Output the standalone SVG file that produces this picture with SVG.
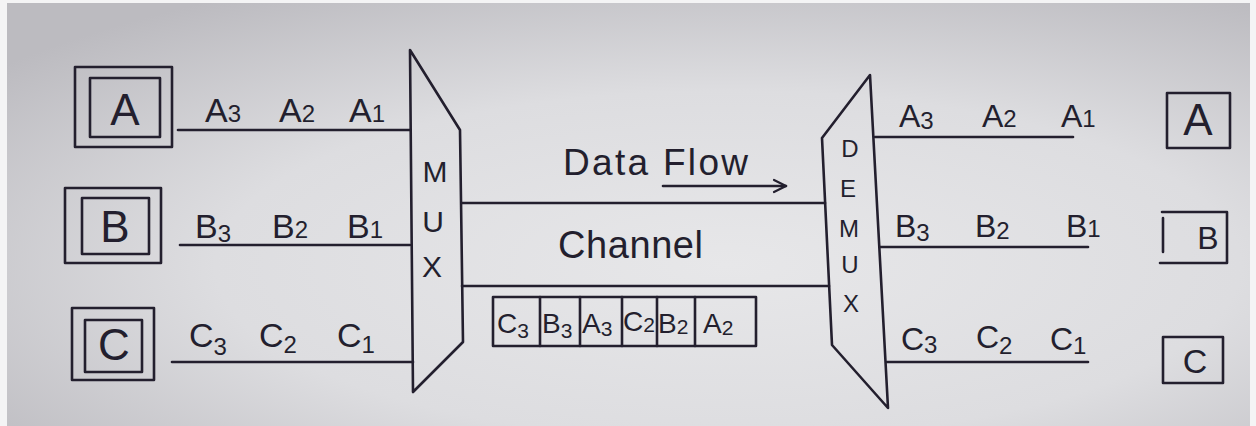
<svg xmlns="http://www.w3.org/2000/svg" width="1256" height="426" viewBox="0 0 1256 426">
  <defs>
    <radialGradient id="paper" cx="0.58" cy="0.62" r="0.75">
      <stop offset="0" stop-color="#e7e7e9"/>
      <stop offset="0.55" stop-color="#dddde0"/>
      <stop offset="1" stop-color="#bcbbc0"/>
    </radialGradient>
    <marker id="open-arrow" viewBox="0 0 16 16" refX="14" refY="8" markerWidth="16" markerHeight="16" markerUnits="userSpaceOnUse" orient="auto">
      <path d="M2,2 L14,8 L2,14" fill="none" stroke="#231f2e" stroke-width="2.2" stroke-linecap="round" stroke-linejoin="round"/>
    </marker>
    <style>
      .ink { fill: none; stroke: #231f2e; stroke-width: 2.6; stroke-linecap: round; stroke-linejoin: round; }
      .txt { font-family: "Liberation Sans", Arial, sans-serif; fill: #231f2e; }
      .box-letter { font-size: 44px; text-anchor: middle; }
      .lbl { font-size: 34px; }
      .lbl-r { font-size: 32px; }
      .sub { font-size: 24px; }
      .mux { font-size: 30px; text-anchor: middle; }
      .demux { font-size: 24px; text-anchor: middle; }
      .cell { font-size: 28px; }
      .cell-sub { font-size: 21px; }
    </style>
  </defs>

  <!-- sheet of paper -->
  <rect x="0" y="0" width="1256" height="426" fill="#f4f4f5"/>
  <rect x="7" y="3" width="1243" height="423" fill="url(#paper)"/>

  <!-- source stations -->
  <g id="src-a">
    <rect class="ink" x="75" y="67" width="97" height="80"/>
    <rect class="ink" x="90" y="78" width="70" height="59"/>
    <text class="txt box-letter" x="125" y="125">A</text>
  </g>
  <g id="src-b">
    <rect class="ink" x="65" y="188" width="96" height="75"/>
    <rect class="ink" x="82" y="198" width="67" height="56"/>
    <text class="txt box-letter" x="115" y="242">B</text>
  </g>
  <g id="src-c">
    <rect class="ink" x="72" y="308" width="82" height="72"/>
    <rect class="ink" x="85" y="320" width="57" height="52"/>
    <text class="txt box-letter" x="114" y="360">C</text>
  </g>

  <!-- multiplexer -->
  <g id="mux">
    <path class="ink" d="M410,50 L460,130 L463,342 L413,392 Z"/>
    <text class="txt mux" x="435" y="182">M</text>
    <text class="txt mux" x="433" y="232">U</text>
    <text class="txt mux" x="432" y="277">X</text>
  </g>

  <!-- demultiplexer -->
  <g id="demux">
    <path class="ink" d="M870,75 L888,408 L832,345 L822,138 Z"/>
    <text class="txt demux" x="850" y="157">D</text>
    <text class="txt demux" x="848" y="197">E</text>
    <text class="txt demux" x="849" y="237">M</text>
    <text class="txt demux" x="850" y="273">U</text>
    <text class="txt demux" x="851" y="312">X</text>
  </g>

  <!-- destination stations -->
  <g id="dst-a">
    <rect class="ink" x="1167" y="93" width="63" height="55"/>
    <text class="txt box-letter" x="1198" y="135">A</text>
  </g>
  <g id="dst-b">
    <path class="ink" d="M1162,212 L1227,212 L1227,263 L1160,263 M1163,218 L1163,252"/>
    <text class="txt" x="1208" y="249" font-size="32" text-anchor="middle">B</text>
  </g>
  <g id="dst-c">
    <rect class="ink" x="1163" y="337" width="60" height="46"/>
    <text class="txt" x="1195" y="373" font-size="34" text-anchor="middle">C</text>
  </g>

  <!-- channel -->
  <g id="channel">
    <text class="txt" x="558" y="258" font-size="38" textLength="145" lengthAdjust="spacing">Channel</text>
  </g>

  <!-- frame of interleaved data units -->
  <g id="frame">
    <rect class="ink" x="493" y="297" width="263" height="49"/>
    <path class="ink" d="M540,297 V346 M580,297 V346 M622,297 V346 M657,297 V346 M695,297 V346"/>
    <text class="txt cell" x="497" y="333">C<tspan class="cell-sub" dy="5">3</tspan></text>
    <text class="txt cell" x="542" y="333">B<tspan class="cell-sub" dy="5">3</tspan></text>
    <text class="txt cell" x="582" y="333">A<tspan class="cell-sub" dy="3">3</tspan></text>
    <text class="txt cell" x="623" y="331">C<tspan class="cell-sub" dy="1">2</tspan></text>
    <text class="txt cell" x="658" y="333">B<tspan class="cell-sub" dy="1">2</tspan></text>
    <text class="txt cell" x="703" y="333">A<tspan class="cell-sub" dy="2">2</tspan></text>
  </g>

  <!-- direction label -->
  <g id="data-flow">
    <text class="txt" x="563" y="175" font-size="37" textLength="185" lengthAdjust="spacing">Data Flow</text>
  </g>

  <!-- connectors -->
  <g id="connectors">
    <line class="ink" x1="178" y1="130" x2="410" y2="130"/>
    <line class="ink" x1="180" y1="245" x2="410" y2="245"/>
    <line class="ink" x1="172" y1="362" x2="413" y2="362"/>
    <line class="ink" x1="462" y1="203" x2="825" y2="203"/>
    <line class="ink" x1="462" y1="286" x2="829" y2="286"/>
    <line class="ink" x1="663" y1="186" x2="786" y2="186" marker-end="url(#open-arrow)"/>
    <line class="ink" x1="875" y1="137" x2="1073" y2="137"/>
    <line class="ink" x1="880" y1="247" x2="1088" y2="247"/>
    <line class="ink" x1="887" y1="362" x2="1088" y2="362"/>
  </g>

  <!-- data units on the input lines -->
  <g id="input-labels">
    <text class="txt lbl" x="205" y="122">A<tspan class="sub" dy="0">3</tspan></text>
    <text class="txt lbl" x="279" y="122">A<tspan class="sub" dy="0">2</tspan></text>
    <text class="txt lbl" x="349" y="122">A<tspan class="sub" dy="0">1</tspan></text>
    <text class="txt lbl" x="195" y="238">B<tspan class="sub" dy="4">3</tspan></text>
    <text class="txt lbl" x="272" y="238">B<tspan class="sub" dy="0">2</tspan></text>
    <text class="txt lbl" x="347" y="238">B<tspan class="sub" dy="0">1</tspan></text>
    <text class="txt lbl" x="189" y="347">C<tspan class="sub" dy="8">3</tspan></text>
    <text class="txt lbl" x="259" y="347">C<tspan class="sub" dy="6">2</tspan></text>
    <text class="txt lbl" x="337" y="347">C<tspan class="sub" dy="6">1</tspan></text>
  </g>

  <!-- data units on the output lines -->
  <g id="output-labels">
    <text class="txt lbl-r" x="899" y="127">A<tspan class="sub" dy="2">3</tspan></text>
    <text class="txt lbl-r" x="982" y="127">A<tspan class="sub" dy="0">2</tspan></text>
    <text class="txt lbl-r" x="1061" y="127">A<tspan class="sub" dy="0">1</tspan></text>
    <text class="txt lbl-r" x="895" y="237">B<tspan class="sub" dy="4">3</tspan></text>
    <text class="txt lbl-r" x="975" y="237">B<tspan class="sub" dy="2">2</tspan></text>
    <text class="txt lbl-r" x="1066" y="237">B<tspan class="sub" dy="0">1</tspan></text>
    <text class="txt lbl-r" x="901" y="350">C<tspan class="sub" dy="3">3</tspan></text>
    <text class="txt lbl-r" x="976" y="348">C<tspan class="sub" dy="6">2</tspan></text>
    <text class="txt lbl-r" x="1050" y="350">C<tspan class="sub" dy="4">1</tspan></text>
  </g>
</svg>
